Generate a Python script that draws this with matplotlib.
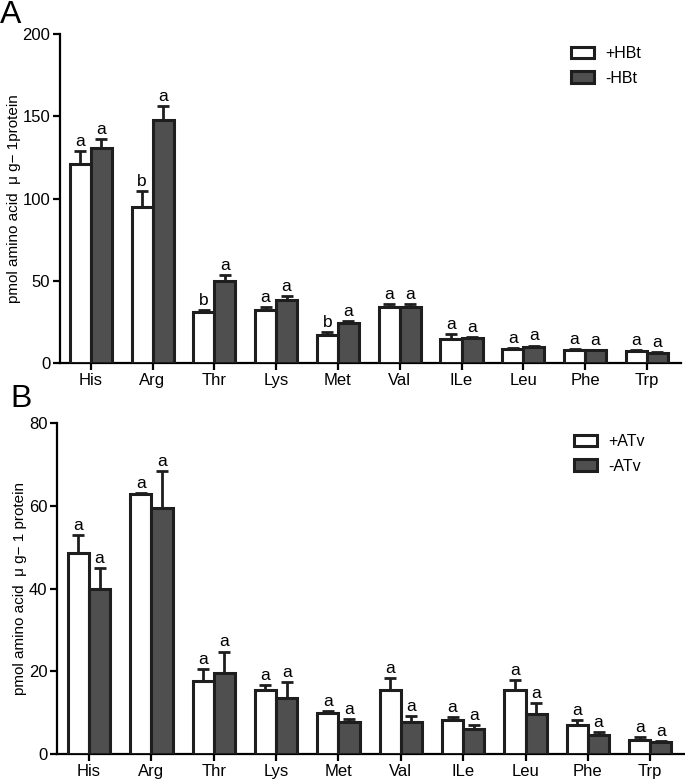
import numpy as np
import matplotlib
matplotlib.use("Agg")
import matplotlib.pyplot as plt

plt.rcParams['font.family'] = ['Liberation Sans', 'DejaVu Sans']

amino = ['His', 'Arg', 'Thr', 'Lys', 'Met', 'Val', 'ILe', 'Leu', 'Phe', 'Trp']

# panel A: +HBt / -HBt
a_plus = [121, 95, 30.8, 32.2, 17, 33.8, 14.4, 8.7, 7.9, 7.4]
a_plus_err = [8, 9.5, 1.6, 1.7, 1.8, 2.1, 3.0, 0.3, 0.4, 0.6]
a_minus = [131, 148, 49.8, 38.1, 24.5, 34, 15, 9.9, 7.7, 6.1]
a_minus_err = [5, 8, 3.7, 2.6, 1.0, 2.0, 1.0, 0.7, 0.3, 0.4]
a_plus_sig = ['a', 'b', 'b', 'a', 'b', 'a', 'a', 'a', 'a', 'a']
a_minus_sig = ['a'] * 10

# panel B: +ATv / -ATv
b_plus = [48.6, 62.8, 17.7, 15.4, 9.9, 15.5, 8.4, 15.5, 7.0, 3.5]
b_plus_err = [4.3, 0.2, 2.9, 1.4, 0.6, 3.0, 0.6, 2.4, 1.2, 0.7]
b_minus = [39.8, 59.4, 19.6, 13.6, 7.7, 7.7, 6.1, 9.8, 4.7, 2.9]
b_minus_err = [5.1, 8.9, 5.2, 3.8, 0.8, 1.6, 0.9, 2.6, 0.7, 0.2]
b_plus_sig = ['a'] * 10
b_minus_sig = ['a'] * 10

dark = '#4f4f4f'
edge = '#1e1e1e'
w = 0.34


def panel(ax, plus, plus_err, minus, minus_err, sig_p, sig_m, labels, ymax, step, ylab):
    x = np.arange(len(amino))
    for off, vals, errs, col, sig, lab in [(-w/2, plus, plus_err, 'white', sig_p, labels[0]),
                                          (w/2, minus, minus_err, dark, sig_m, labels[1])]:
        ax.bar(x + off, vals, width=w, color=col, edgecolor=edge, linewidth=2.2, label=lab, zorder=3)
        ax.errorbar(x + off, vals, yerr=[np.zeros(len(vals)), errs], fmt='none',
                    ecolor=edge, elinewidth=2, capsize=4.5, capthick=2, zorder=2)
        for xi, v, e, s in zip(x + off, vals, errs, sig):
            ax.annotate(s, (xi, v + e), xytext=(0, 1.5), textcoords='offset points',
                        ha='center', va='bottom', fontsize=12.5)
    ax.set_ylim(0, ymax)
    ax.set_yticks(np.arange(0, ymax + 1, step))
    ax.set_xticks(x)
    ax.set_xticklabels(amino)
    ax.spines['top'].set_visible(False)
    ax.spines['right'].set_visible(False)
    ax.spines['left'].set_linewidth(1.6)
    ax.spines['bottom'].set_linewidth(1.6)
    ax.tick_params(direction='out', length=5, width=1.6, labelsize=12, pad=2)
    ax.set_ylabel(ylab, fontsize=11, labelpad=1)


fig = plt.figure(figsize=(6.85, 7.8), dpi=100)

axA = fig.add_axes([0.0876, 0.5346, 0.9064, 0.4218])
panel(axA, a_plus, a_plus_err, a_minus, a_minus_err, a_plus_sig, a_minus_sig,
      ['+HBt', '-HBt'], 200, 50, 'pmol amino acid  \u03bc g\u2212 1protein')
axA.set_xlim(-0.497, 9.55)
axA.legend(loc='upper left', bbox_to_anchor=(563 / 685, 1 - 38 / 780), bbox_transform=fig.transFigure,
           frameon=False, fontsize=11.5, handlelength=1.45, handleheight=0.75,
           handletextpad=0.7, labelspacing=0.6, borderpad=0)

axB = fig.add_axes([0.0832, 0.0329, 0.9153, 0.4252])
panel(axB, b_plus, b_plus_err, b_minus, b_minus_err, b_plus_sig, b_minus_sig,
      ['+ATv', '-ATv'], 80, 20, 'pmol amino acid  \u03bc g\u2212 1 protein')
axB.set_xlim(-0.513, 9.54)
axB.legend(loc='upper left', bbox_to_anchor=(566 / 685, 1 - 426 / 780), bbox_transform=fig.transFigure,
           frameon=False, fontsize=11.5, handlelength=1.45, handleheight=0.75,
           handletextpad=0.7, labelspacing=0.6, borderpad=0)

fig.text(0.0, 1.0, 'A', fontsize=23, ha='left', va='top')
fig.text(10 / 685, 1 - 384 / 780, 'B', fontsize=23, ha='left', va='top')

fig.savefig('out.png', dpi=100)
